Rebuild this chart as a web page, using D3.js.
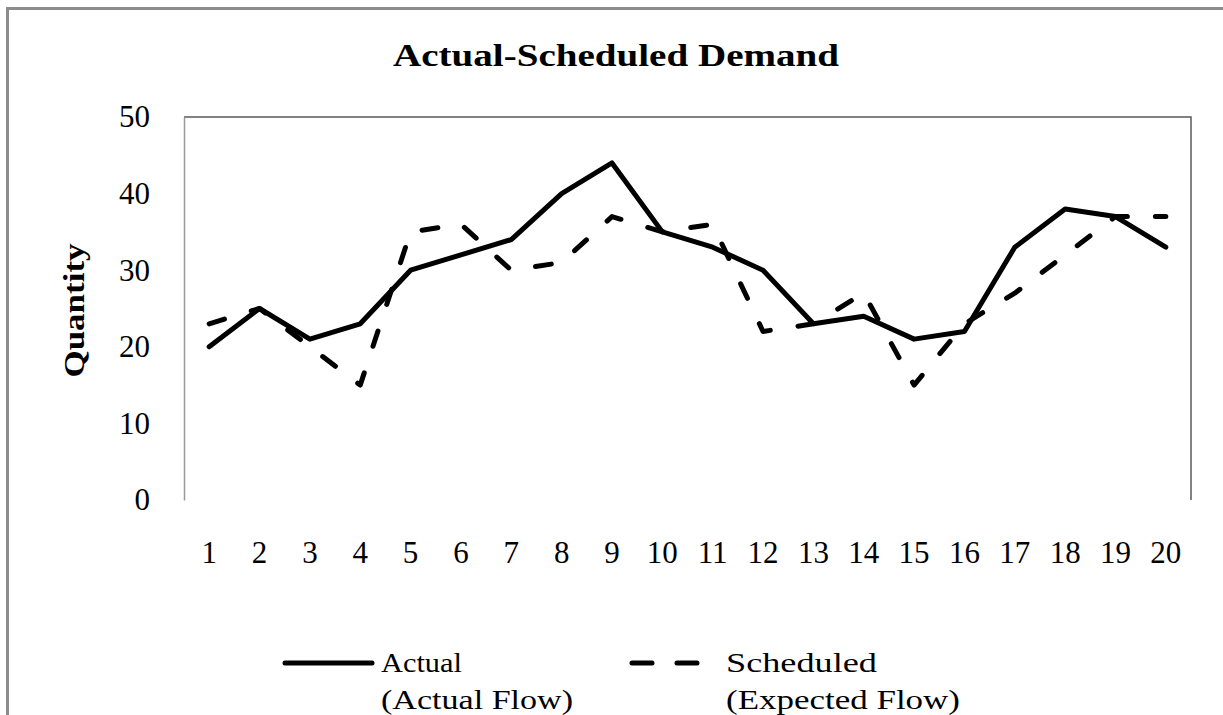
<!DOCTYPE html>
<html>
<head>
<meta charset="utf-8">
<script src="https://cdn.jsdelivr.net/npm/d3@7"></script>
<style>
  body { margin: 0; background: #fff; }
  text { font-family: "Liberation Serif", serif; fill: #000; }
</style>
</head>
<body>
<svg id="chart" width="1223" height="715"></svg>
<script>
// periods 1..20
const periods = d3.range(1, 21);
const actual    = [20, 25, 21, 23, 30, 32, 34, 40, 44, 35, 33, 30, 23, 24, 21, 22, 33, 38, 37, 33];
const scheduled = [23, 25, 20, 15, 35, 36, 30, 31, 37, 35, 36, 22, 23, 27, 15, 23, 27, 32, 37, 37];
const yTicks = [0, 10, 20, 30, 40, 50];

const svg = d3.select("#chart");

// outer chart frame (runs off the right/bottom edge like the original)
svg.append("rect")
  .attr("x", 7.5).attr("y", 8.5)
  .attr("width", 1240).attr("height", 730)
  .attr("fill", "none").attr("stroke", "#8c8c8c").attr("stroke-width", 3);

const plot = {left: 184, right: 1191, top: 117, bottom: 500};

const x = d3.scaleBand().domain(periods).range([plot.left, plot.right]);
const y = d3.scaleLinear().domain([0, 50]).range([plot.bottom, plot.top]);

// plot area border: top + right dark, left axis light
svg.append("path")
  .attr("d", `M${plot.left},${plot.top}H${plot.right}V${plot.bottom}`)
  .attr("fill", "none").attr("stroke", "#595959").attr("stroke-width", 1.5);

const yAxis = d3.axisLeft(y).tickValues(yTicks).tickSize(0).tickPadding(34);
const gy = svg.append("g").attr("transform", `translate(${plot.left},0)`).call(yAxis);
gy.select(".domain").attr("stroke", "#999").attr("stroke-width", 1.5);
gy.selectAll("text").style("font-family", "Liberation Serif").style("font-size", "31px").attr("dy", "0.32em");

const xAxis = d3.axisBottom(x).tickSize(0).tickPadding(41);
const gx = svg.append("g").attr("transform", `translate(0,${plot.bottom})`).call(xAxis);
gx.select(".domain").remove();
gx.selectAll("text").style("font-family", "Liberation Serif").style("font-size", "31px");

// title + axis title
svg.append("text")
  .attr("x", 616).attr("y", 66)
  .attr("text-anchor", "middle")
  .attr("textLength", 446).attr("lengthAdjust", "spacingAndGlyphs")
  .style("font-size", "32px").style("font-weight", "bold")
  .text("Actual-Scheduled Demand");

svg.append("text")
  .attr("transform", `translate(84,${(plot.top + plot.bottom) / 2 + 2}) rotate(-90)`)
  .attr("text-anchor", "middle")
  .attr("textLength", 134).attr("lengthAdjust", "spacingAndGlyphs")
  .style("font-size", "30px").style("font-weight", "bold")
  .text("Quantity");

// series
const line = d3.line()
  .x((d, i) => x(periods[i]) + x.bandwidth() / 2)
  .y(d => y(d));

svg.append("path").datum(scheduled)
  .attr("d", line)
  .attr("fill", "none").attr("stroke", "#000").attr("stroke-width", 5)
  .attr("stroke-linecap", "round").attr("stroke-linejoin", "round")
  .attr("stroke-dasharray", "16,28");

svg.append("path").datum(actual)
  .attr("d", line)
  .attr("fill", "none").attr("stroke", "#000").attr("stroke-width", 5)
  .attr("stroke-linejoin", "round").attr("stroke-linecap", "round");

// legend
const legend = [
  {x1: 285, x2: 372, tx: 381, dash: null, l1: "Actual", w1: 81, l2: "(Actual Flow)", w2: 192},
  {x1: 632, x2: 700, tx: 726, dash: "20,25", l1: "Scheduled", w1: 151, l2: "(Expected Flow)", w2: 234}
];
const lg = svg.append("g");
legend.forEach(d => {
  lg.append("line")
    .attr("x1", d.x1).attr("x2", d.x2).attr("y1", 663).attr("y2", 663)
    .attr("stroke", "#000").attr("stroke-width", 5).attr("stroke-linecap", "round")
    .attr("stroke-dasharray", d.dash);
  lg.append("text").attr("x", d.tx).attr("y", 672)
    .attr("textLength", d.w1).attr("lengthAdjust", "spacingAndGlyphs")
    .style("font-size", "27px").text(d.l1);
  lg.append("text").attr("x", d.tx).attr("y", 709)
    .attr("textLength", d.w2).attr("lengthAdjust", "spacingAndGlyphs")
    .style("font-size", "27px").text(d.l2);
});
</script>
</body>
</html>
